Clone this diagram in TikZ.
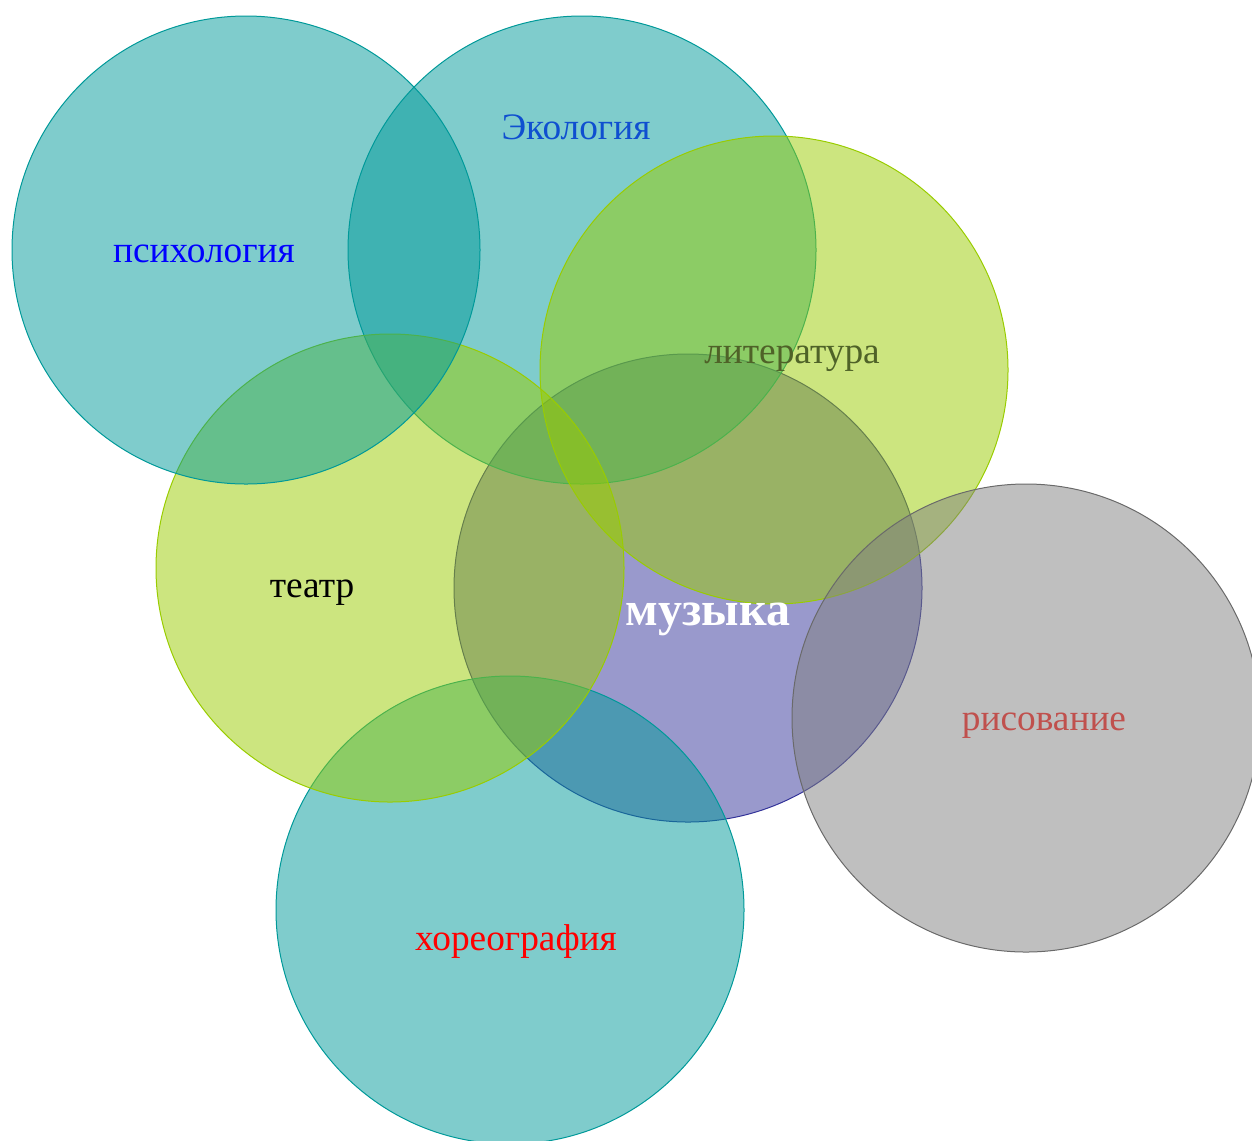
\documentclass[tikz,border=0pt]{standalone}
\usepackage{fontspec}
\setmainfont{Liberation Serif}
\definecolor{tealc}{HTML}{009999}
\definecolor{limec}{HTML}{99CC00}
\definecolor{navyc}{HTML}{333399}
\definecolor{grayc}{HTML}{808080}
\definecolor{grayd}{HTML}{6A6A6A}
\definecolor{ecoc}{HTML}{0F4FD0}
\definecolor{litc}{HTML}{4F6228}
\definecolor{risc}{HTML}{C0504D}
\tikzset{
  ring/.style={circle, inner sep=0pt, outer sep=0pt, minimum size=351pt, line width=0.75pt, fill opacity=0.5},
  tealring/.style={ring, draw=tealc, fill=tealc},
  limering/.style={ring, draw=limec, fill=limec},
  navyring/.style={ring, draw=navyc, fill=navyc},
  grayring/.style={ring, draw=grayd, fill=grayc},
  lbl/.style={inner sep=0pt, anchor=base, font=\fontsize{28}{32}\selectfont}
}
\begin{document}
\begin{tikzpicture}[x=0.75pt, y=-0.75pt]
\useasboundingbox (0,0) rectangle (1252,1140);
\node[navyring] (muz) at (688,588) {};
\node[tealring] (eco) at (582,250) {};
\node[tealring] (hor) at (510,910) {};
\node[limering] (tea) at (390,568) {};
\node[tealring] (psy) at (246,250) {};
\node[limering] (lit) at (774,370) {};
\node[grayring] (ris) at (1026,718) {};

\node[lbl, text=blue] (tpsy) at (204,262) {психология};
\node[lbl, text=ecoc] (teco) at (576,139) {Экология};
\node[lbl, text=litc] (tlit) at (792,363) {литература};
\node[lbl, text=black] (ttea) at (312,597) {театр};
\node[lbl, text=white, font=\fontsize{36}{40}\selectfont\bfseries] (tmuz) at (708,625) {музыка};
\node[lbl, text=risc] (tris) at (1044,730) {рисование};
\node[lbl, text=red] (thor) at (516,950) {хореография};
\end{tikzpicture}
\end{document}
